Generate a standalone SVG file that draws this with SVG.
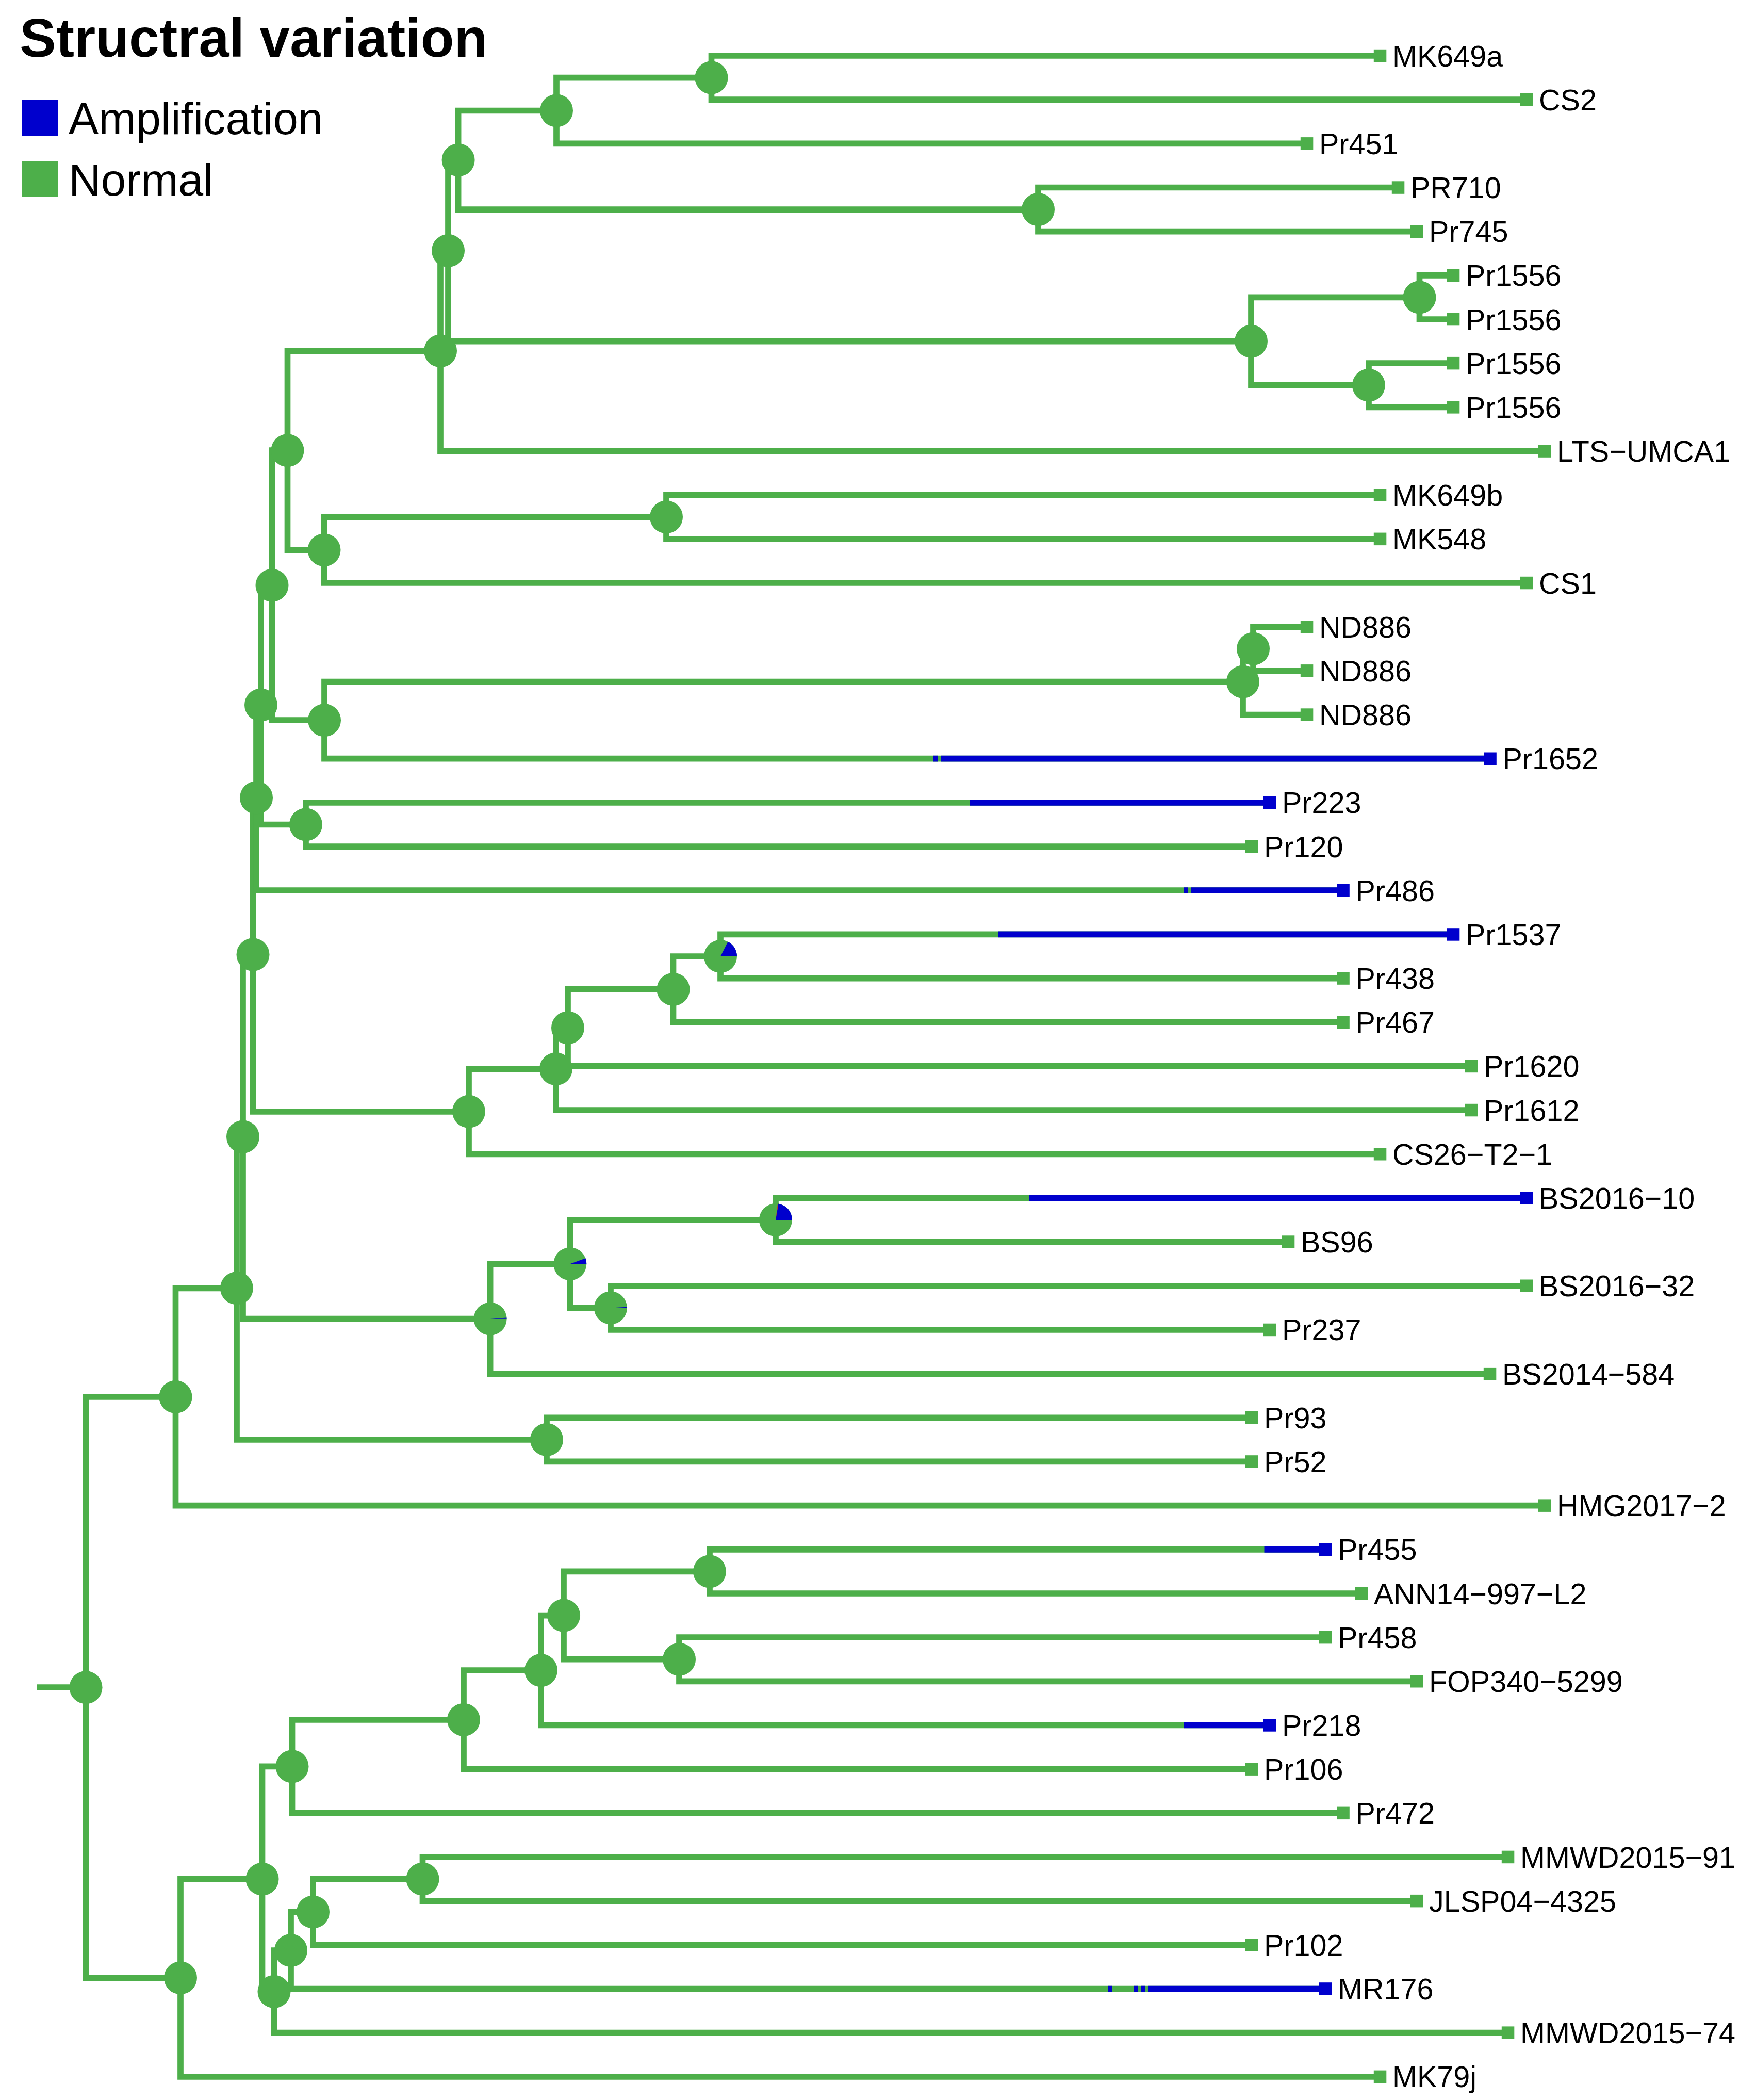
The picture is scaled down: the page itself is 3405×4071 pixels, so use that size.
<svg xmlns="http://www.w3.org/2000/svg" width="3405" height="4071" viewBox="0 0 3405 4071">
<style>
.e{fill:none;stroke:#4DAF4A;stroke-width:11.7;stroke-linejoin:miter;stroke-linecap:butt}
.b{fill:none;stroke:#0000CD;stroke-width:11.7;stroke-linecap:butt}
.n{fill:#4DAF4A}
.bl{fill:#0000CD}
.rd{fill:#E41A1C}
.tg{fill:#4DAF4A}
.tb{fill:#0000CD}
text{font-family:"Liberation Sans",Arial,Helvetica,sans-serif;fill:#000}
.lab{font-size:57.5px}
.leg{font-size:87px}
.ttl{font-size:106px;font-weight:bold}
</style>
<rect width="3405" height="4071" fill="#fff"/>
<g id="legend">
<text class="ttl" x="38" y="110">Structral variation</text>
<rect x="43" y="193" width="70" height="70" fill="#0000CD"/>
<text class="leg" x="133" y="260">Amplification</text>
<rect x="43" y="312" width="70" height="70" fill="#4DAF4A"/>
<text class="leg" x="133" y="379">Normal</text>
</g>
<g id="connectors">
<path class="e" d="M71 3271.2H166.5"/>
<path class="e" d="M340.5 2708H166.5V3834.3H350"/>
<path class="e" d="M459 2497.3H340.5V2918.6H2995"/>
<path class="e" d="M471 2203.7H459V2790.9H1060"/>
<path class="e" d="M490.5 1850.6H471V2556.7H950.6"/>
<path class="e" d="M497 1546.4H490.5V2154.8H909"/>
<path class="e" d="M506 1366.6H497V1726.2H2604.5"/>
<path class="e" d="M527.5 1134.7H506V1598.5H593"/>
<path class="e" d="M557.5 873.2H527.5V1396.2H629"/>
<path class="e" d="M854 680.3H557.5V1066.2H628.5"/>
<path class="e" d="M869 486H854V874.5H2995"/>
<path class="e" d="M888.6 310.3H869V661.6H2426"/>
<path class="e" d="M1079 214.5H888.6V406.1H2013"/>
<path class="e" d="M1379.5 150.6H1079V278.3H2534"/>
<path class="e" d="M2676 108H1379.5V193.2H2960"/>
<path class="e" d="M2711 363.5H2013V448.7H2747"/>
<path class="e" d="M2752.5 576.4H2426V746.8H2654"/>
<path class="e" d="M2818 533.9H2752.5V619H2818"/>
<path class="e" d="M2818 704.2H2654V789.4H2818"/>
<path class="e" d="M1292 1002.3H628.5V1130H2960"/>
<path class="e" d="M2676 959.7H1292V1044.9H2676"/>
<path class="e" d="M2410 1321.7H629V1470.7H2889.5"/>
<path class="e" d="M2430 1257.8H2410V1385.6H2534"/>
<path class="e" d="M2534 1215.2H2430V1300.4H2534"/>
<path class="e" d="M2462 1555.9H593V1641.1H2427"/>
<path class="e" d="M1078 2072.3H909V2237.3H2676"/>
<path class="e" d="M1101 1992.4H1078V2152.1H2853"/>
<path class="e" d="M1305.5 1917.9H1101V2066.9H2853"/>
<path class="e" d="M1397 1854H1305.5V1981.7H2604.5"/>
<path class="e" d="M2818 1811.4H1397V1896.6H2604.5"/>
<path class="e" d="M1105.3 2450.2H950.6V2663.1H2889"/>
<path class="e" d="M1504 2365H1105.3V2535.4H1184"/>
<path class="e" d="M2960 2322.4H1504V2407.6H2498"/>
<path class="e" d="M2960 2492.8H1184V2577.9H2462"/>
<path class="e" d="M2427 2748.3H1060V2833.4H2427"/>
<path class="e" d="M508.5 3642.7H350V4025.8H2676"/>
<path class="e" d="M566.5 3424.4H508.5V3860.9H531.5"/>
<path class="e" d="M899 3333.9H566.5V3514.8H2604.5"/>
<path class="e" d="M1049 3238.1H899V3429.6H2427"/>
<path class="e" d="M1093 3131.6H1049V3344.5H2462"/>
<path class="e" d="M1376 3046.4H1093V3216.7H1317"/>
<path class="e" d="M2570 3003.8H1376V3089H2640"/>
<path class="e" d="M2570 3174.1H1317V3259.3H2747"/>
<path class="e" d="M564 3781H531.5V3940.7H2924"/>
<path class="e" d="M607 3706.5H564V3855.5H2570"/>
<path class="e" d="M819.5 3642.6H607V3770.3H2427"/>
<path class="e" d="M2924 3600H819.5V3685.1H2747"/>
<path class="b" d="M1810 1470.7H1818M1824 1470.7H2889.5"/>
<path class="b" d="M1880 1555.9H2462"/>
<path class="b" d="M2295 1726.2H2303M2310 1726.2H2604.5"/>
<path class="b" d="M1935 1811.4H2818"/>
<path class="b" d="M1995 2322.4H2960"/>
<path class="b" d="M2451.5 3003.8H2570"/>
<path class="b" d="M2296 3344.5H2462"/>
<path class="b" d="M2149 3855.5H2156M2198 3855.5H2206M2213 3855.5H2220M2227 3855.5H2570"/>
</g>
<g id="nodes">
<circle id="root" class="n" cx="166.5" cy="3271.2" r="32"/>
<circle id="U" class="n" cx="340.5" cy="2708" r="32"/>
<circle id="Q7" class="n" cx="459" cy="2497.3" r="32"/>
<circle id="Q6" class="n" cx="471" cy="2203.7" r="32"/>
<circle id="Q5" class="n" cx="490.5" cy="1850.6" r="32"/>
<circle id="Q4" class="n" cx="497" cy="1546.4" r="32"/>
<circle id="Q3" class="n" cx="506" cy="1366.6" r="32"/>
<circle id="Q2" class="n" cx="527.5" cy="1134.7" r="32"/>
<circle id="Q1" class="n" cx="557.5" cy="873.2" r="32"/>
<circle id="P1" class="n" cx="854" cy="680.3" r="32"/>
<circle id="P2" class="n" cx="869" cy="486" r="32"/>
<circle id="T4" class="n" cx="888.6" cy="310.3" r="32"/>
<circle id="T2" class="n" cx="1079" cy="214.5" r="32"/>
<circle id="T1" class="n" cx="1379.5" cy="150.6" r="32"/>
<circle id="T3" class="n" cx="2013" cy="406.1" r="32"/>
<circle id="T5" class="n" cx="2426" cy="661.6" r="32"/>
<circle id="A" class="n" cx="2752.5" cy="576.4" r="32"/>
<circle id="B" class="n" cx="2654" cy="746.8" r="32"/>
<circle id="M2" class="n" cx="628.5" cy="1066.2" r="32"/>
<circle id="M1" class="n" cx="1292" cy="1002.3" r="32"/>
<circle id="N3" class="n" cx="629" cy="1396.2" r="32"/>
<circle id="N1" class="n" cx="2430" cy="1257.8" r="32"/>
<circle id="N2" class="n" cx="2410" cy="1321.7" r="32"/>
<circle id="R1" class="n" cx="593" cy="1598.5" r="32"/>
<circle id="C0" class="n" cx="909" cy="2154.8" r="32"/>
<circle id="C1" class="n" cx="1078" cy="2072.3" r="32"/>
<circle id="C2" class="n" cx="1101" cy="1992.4" r="32"/>
<circle id="C3" class="n" cx="1305.5" cy="1917.9" r="32"/>
<g id="C4"><circle class="n" cx="1397" cy="1854" r="32"/><path class="bl" d="M1397 1854L1429 1854A32 32 0 0 0 1411.5 1825.5Z"/></g>
<g id="B0"><circle class="n" cx="950.6" cy="2556.7" r="32"/><path class="bl" d="M950.6 2556.7L982.6 2556.7A32 32 0 0 0 982.5 2554.5Z"/></g>
<g id="B1"><circle class="n" cx="1105.3" cy="2450.2" r="32"/><path class="bl" d="M1105.3 2450.2L1137.3 2450.2A32 32 0 0 0 1135.4 2439.3Z"/></g>
<g id="B2"><circle class="n" cx="1504" cy="2365" r="32"/><path class="bl" d="M1504 2365L1536 2365A32 32 0 0 0 1509.3 2333.4Z"/><path class="rd" d="M1504 2365L1509.3 2333.4A32 32 0 0 0 1508.2 2333.3Z"/></g>
<g id="B3"><circle class="n" cx="1184" cy="2535.4" r="32"/><path class="bl" d="M1184 2535.4L1216 2535.4A32 32 0 0 0 1215.96 2533.7Z"/></g>
<circle id="PN" class="n" cx="1060" cy="2790.9" r="32"/>
<circle id="L0" class="n" cx="350" cy="3834.3" r="32"/>
<circle id="L1" class="n" cx="508.5" cy="3642.7" r="32"/>
<circle id="L2" class="n" cx="566.5" cy="3424.4" r="32"/>
<circle id="L3" class="n" cx="899" cy="3333.9" r="32"/>
<circle id="L4" class="n" cx="1049" cy="3238.1" r="32"/>
<circle id="L5" class="n" cx="1093" cy="3131.6" r="32"/>
<circle id="L6" class="n" cx="1376" cy="3046.4" r="32"/>
<circle id="L7" class="n" cx="1317" cy="3216.7" r="32"/>
<circle id="L8" class="n" cx="531.5" cy="3860.9" r="32"/>
<circle id="L9" class="n" cx="564" cy="3781" r="32"/>
<circle id="L10" class="n" cx="607" cy="3706.5" r="32"/>
<circle id="L11" class="n" cx="819.5" cy="3642.6" r="32"/>
</g>
<g id="tips">
<g id="t1"><rect class="tg" x="2663.8" y="95.8" width="24.5" height="24.5"/><text class="lab" x="2700" y="128.5">MK649a</text></g>
<g id="t2"><rect class="tg" x="2947.8" y="181" width="24.5" height="24.5"/><text class="lab" x="2984" y="213.7">CS2</text></g>
<g id="t3"><rect class="tg" x="2521.8" y="266.1" width="24.5" height="24.5"/><text class="lab" x="2558" y="298.8">Pr451</text></g>
<g id="t4"><rect class="tg" x="2698.8" y="351.3" width="24.5" height="24.5"/><text class="lab" x="2735" y="384">PR710</text></g>
<g id="t5"><rect class="tg" x="2734.8" y="436.5" width="24.5" height="24.5"/><text class="lab" x="2771" y="469.2">Pr745</text></g>
<g id="t6"><rect class="tg" x="2805.8" y="521.6" width="24.5" height="24.5"/><text class="lab" x="2842" y="554.4">Pr1556</text></g>
<g id="t7"><rect class="tg" x="2805.8" y="606.8" width="24.5" height="24.5"/><text class="lab" x="2842" y="639.5">Pr1556</text></g>
<g id="t8"><rect class="tg" x="2805.8" y="691.9" width="24.5" height="24.5"/><text class="lab" x="2842" y="724.7">Pr1556</text></g>
<g id="t9"><rect class="tg" x="2805.8" y="777.1" width="24.5" height="24.5"/><text class="lab" x="2842" y="809.9">Pr1556</text></g>
<g id="t10"><rect class="tg" x="2982.8" y="862.3" width="24.5" height="24.5"/><text class="lab" x="3019" y="895">LTS−UMCA1</text></g>
<g id="t11"><rect class="tg" x="2663.8" y="947.5" width="24.5" height="24.5"/><text class="lab" x="2700" y="980.2">MK649b</text></g>
<g id="t12"><rect class="tg" x="2663.8" y="1032.6" width="24.5" height="24.5"/><text class="lab" x="2700" y="1065.4">MK548</text></g>
<g id="t13"><rect class="tg" x="2947.8" y="1117.8" width="24.5" height="24.5"/><text class="lab" x="2984" y="1150.5">CS1</text></g>
<g id="t14"><rect class="tg" x="2521.8" y="1203" width="24.5" height="24.5"/><text class="lab" x="2558" y="1235.7">ND886</text></g>
<g id="t15"><rect class="tg" x="2521.8" y="1288.1" width="24.5" height="24.5"/><text class="lab" x="2558" y="1320.9">ND886</text></g>
<g id="t16"><rect class="tg" x="2521.8" y="1373.3" width="24.5" height="24.5"/><text class="lab" x="2558" y="1406">ND886</text></g>
<g id="t17"><rect class="tb" x="2877.3" y="1458.5" width="24.5" height="24.5"/><text class="lab" x="2913.5" y="1491.2">Pr1652</text></g>
<g id="t18"><rect class="tb" x="2449.8" y="1543.6" width="24.5" height="24.5"/><text class="lab" x="2486" y="1576.4">Pr223</text></g>
<g id="t19"><rect class="tg" x="2414.8" y="1628.8" width="24.5" height="24.5"/><text class="lab" x="2451" y="1661.5">Pr120</text></g>
<g id="t20"><rect class="tb" x="2592.3" y="1714" width="24.5" height="24.5"/><text class="lab" x="2628.5" y="1746.7">Pr486</text></g>
<g id="t21"><rect class="tb" x="2805.8" y="1799.2" width="24.5" height="24.5"/><text class="lab" x="2842" y="1831.9">Pr1537</text></g>
<g id="t22"><rect class="tg" x="2592.3" y="1884.3" width="24.5" height="24.5"/><text class="lab" x="2628.5" y="1917.1">Pr438</text></g>
<g id="t23"><rect class="tg" x="2592.3" y="1969.5" width="24.5" height="24.5"/><text class="lab" x="2628.5" y="2002.2">Pr467</text></g>
<g id="t24"><rect class="tg" x="2840.8" y="2054.7" width="24.5" height="24.5"/><text class="lab" x="2877" y="2087.4">Pr1620</text></g>
<g id="t25"><rect class="tg" x="2840.8" y="2139.8" width="24.5" height="24.5"/><text class="lab" x="2877" y="2172.6">Pr1612</text></g>
<g id="t26"><rect class="tg" x="2663.8" y="2225" width="24.5" height="24.5"/><text class="lab" x="2700" y="2257.8">CS26−T2−1</text></g>
<g id="t27"><rect class="tb" x="2947.8" y="2310.2" width="24.5" height="24.5"/><text class="lab" x="2984" y="2342.9">BS2016−10</text></g>
<g id="t28"><rect class="tg" x="2485.8" y="2395.3" width="24.5" height="24.5"/><text class="lab" x="2522" y="2428.1">BS96</text></g>
<g id="t29"><rect class="tg" x="2947.8" y="2480.5" width="24.5" height="24.5"/><text class="lab" x="2984" y="2513.3">BS2016−32</text></g>
<g id="t30"><rect class="tg" x="2449.8" y="2565.7" width="24.5" height="24.5"/><text class="lab" x="2486" y="2598.4">Pr237</text></g>
<g id="t31"><rect class="tg" x="2876.8" y="2650.9" width="24.5" height="24.5"/><text class="lab" x="2913" y="2683.6">BS2014−584</text></g>
<g id="t32"><rect class="tg" x="2414.8" y="2736" width="24.5" height="24.5"/><text class="lab" x="2451" y="2768.8">Pr93</text></g>
<g id="t33"><rect class="tg" x="2414.8" y="2821.2" width="24.5" height="24.5"/><text class="lab" x="2451" y="2853.9">Pr52</text></g>
<g id="t34"><rect class="tg" x="2982.8" y="2906.4" width="24.5" height="24.5"/><text class="lab" x="3019" y="2939.1">HMG2017−2</text></g>
<g id="t35"><rect class="tb" x="2557.8" y="2991.5" width="24.5" height="24.5"/><text class="lab" x="2594" y="3024.3">Pr455</text></g>
<g id="t36"><rect class="tg" x="2627.8" y="3076.7" width="24.5" height="24.5"/><text class="lab" x="2664" y="3109.5">ANN14−997−L2</text></g>
<g id="t37"><rect class="tg" x="2557.8" y="3161.9" width="24.5" height="24.5"/><text class="lab" x="2594" y="3194.6">Pr458</text></g>
<g id="t38"><rect class="tg" x="2734.8" y="3247" width="24.5" height="24.5"/><text class="lab" x="2771" y="3279.8">FOP340−5299</text></g>
<g id="t39"><rect class="tb" x="2449.8" y="3332.2" width="24.5" height="24.5"/><text class="lab" x="2486" y="3365">Pr218</text></g>
<g id="t40"><rect class="tg" x="2414.8" y="3417.4" width="24.5" height="24.5"/><text class="lab" x="2451" y="3450.1">Pr106</text></g>
<g id="t41"><rect class="tg" x="2592.3" y="3502.6" width="24.5" height="24.5"/><text class="lab" x="2628.5" y="3535.3">Pr472</text></g>
<g id="t42"><rect class="tg" x="2911.8" y="3587.7" width="24.5" height="24.5"/><text class="lab" x="2948" y="3620.5">MMWD2015−91</text></g>
<g id="t43"><rect class="tg" x="2734.8" y="3672.9" width="24.5" height="24.5"/><text class="lab" x="2771" y="3705.6">JLSP04−4325</text></g>
<g id="t44"><rect class="tg" x="2414.8" y="3758.1" width="24.5" height="24.5"/><text class="lab" x="2451" y="3790.8">Pr102</text></g>
<g id="t45"><rect class="tb" x="2557.8" y="3843.2" width="24.5" height="24.5"/><text class="lab" x="2594" y="3876">MR176</text></g>
<g id="t46"><rect class="tg" x="2911.8" y="3928.4" width="24.5" height="24.5"/><text class="lab" x="2948" y="3961.2">MMWD2015−74</text></g>
<g id="t47"><rect class="tg" x="2663.8" y="4013.6" width="24.5" height="24.5"/><text class="lab" x="2700" y="4046.3">MK79j</text></g>
</g>
</svg>
